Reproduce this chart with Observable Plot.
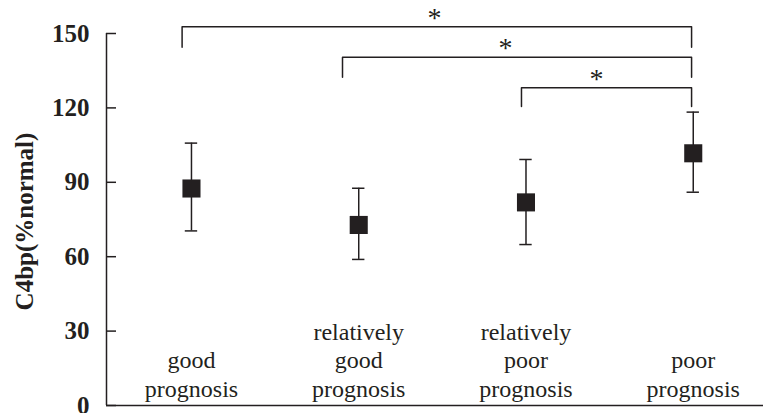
<!DOCTYPE html>
<html>
<head>
<meta charset="utf-8">
<script src="https://cdn.jsdelivr.net/npm/d3@7"></script>
<script src="https://cdn.jsdelivr.net/npm/@observablehq/plot@0.6"></script>
<style>
  html, body { margin: 0; padding: 0; background: #fff; }
  #chart svg { display: block; }
  #chart svg, #chart svg text { font-family: "Liberation Serif", "Times New Roman", Times, serif !important; }
</style>
</head>
<body>
<div id="chart"></div>
<script>
// Categories (x positions are their indices 0..3)
const categories = ["good\nprognosis", "relatively\ngood\nprognosis", "relatively\npoor\nprognosis", "poor\nprognosis"];
// Mean C4bp (% normal) and error bar ends
const means = [87.5, 72.8, 81.9, 101.7];
const upper = [105.8, 87.6, 99.2, 118.3];
const lower = [70.4, 58.9, 64.9, 86.0];
// Y axis ticks
const yTicks = [0, 30, 60, 90, 120, 150];
const yLabel = "C4bp(%normal)";
// Significance brackets (x in category-index units, y in data units)
const bracketFrom = [-0.056, 0.903, 1.973];
const bracketTo = [2.99, 2.99, 2.99];
const bracketTop = [152.7, 140.4, 128.1];
const bracketFoot = [144.5, 132.4, 120.6];
const starX = [1.453, 1.878, 2.422];
const starLabel = ["*", "*", "*"];

const ink = "#231f20";
const serif = "Liberation Serif";
const xDomain = [-0.508, 3.42];
const capHalf = 0.037;

const data = categories.map((c, i) => ({i, c, m: means[i], hi: upper[i], lo: lower[i]}));
const bracketPts = bracketFrom.flatMap((f, k) => [
  {k, x: f, y: bracketFoot[k]},
  {k, x: f, y: bracketTop[k]},
  {k, x: bracketTo[k], y: bracketTop[k]},
  {k, x: bracketTo[k], y: bracketFoot[k]}
]);
const stars = starX.map((x, k) => ({x, y: bracketTop[k], t: starLabel[k]}));

const chart = Plot.plot({
  width: 763,
  height: 413,
  marginLeft: 106,
  marginRight: 0,
  marginTop: 33,
  marginBottom: 8,
  style: {fontFamily: serif, fontSize: "24px", color: ink, background: "#fff"},
  x: {type: "linear", domain: xDomain, axis: null},
  y: {domain: [0, 150]},
  marks: [
    Plot.axisY({ticks: yTicks, tickSize: -10, tickPadding: 27, label: null, fontFamily: serif, fontWeight: "bold", fontSize: 25, strokeWidth: 1.5, dy: 0}),
    Plot.ruleY([0], {stroke: ink, strokeWidth: 1.5}),
    Plot.ruleX([xDomain[0]], {y1: 0, y2: 150, stroke: ink, strokeWidth: 1.5}),
    Plot.text([yLabel], {frameAnchor: "left", textAnchor: "middle", lineAnchor: "middle", rotate: -90, dx: -82, dy: 2, fontFamily: serif, fontWeight: "bold", fontSize: 25, fill: ink}),
    // error bars
    Plot.ruleX(data, {x: "i", y1: "lo", y2: "hi", stroke: ink, strokeWidth: 1.5}),
    Plot.ruleY(data, {y: "hi", x1: d => d.i - capHalf, x2: d => d.i + capHalf, stroke: ink, strokeWidth: 1.5}),
    Plot.ruleY(data, {y: "lo", x1: d => d.i - capHalf, x2: d => d.i + capHalf, stroke: ink, strokeWidth: 1.5}),
    Plot.dot(data, {x: "i", y: "m", symbol: "square", r: 10.2, fill: ink, stroke: null}),
    // category labels
    Plot.text(data, {x: "i", y: 0, text: "c", lineAnchor: "bottom", dy: -9, fontFamily: serif, fontSize: 24, lineHeight: 1.18, fill: ink}),
    // brackets
    Plot.line(bracketPts, {x: "x", y: "y", z: "k", stroke: ink, strokeWidth: 1.5, curve: "linear"}),
    Plot.text(stars, {x: "x", y: "y", text: "t", lineAnchor: "bottom", dy: 0, fontFamily: serif, fontSize: 28, fill: ink})
  ]
});
document.getElementById("chart").append(chart);
</script>
</body>
</html>
